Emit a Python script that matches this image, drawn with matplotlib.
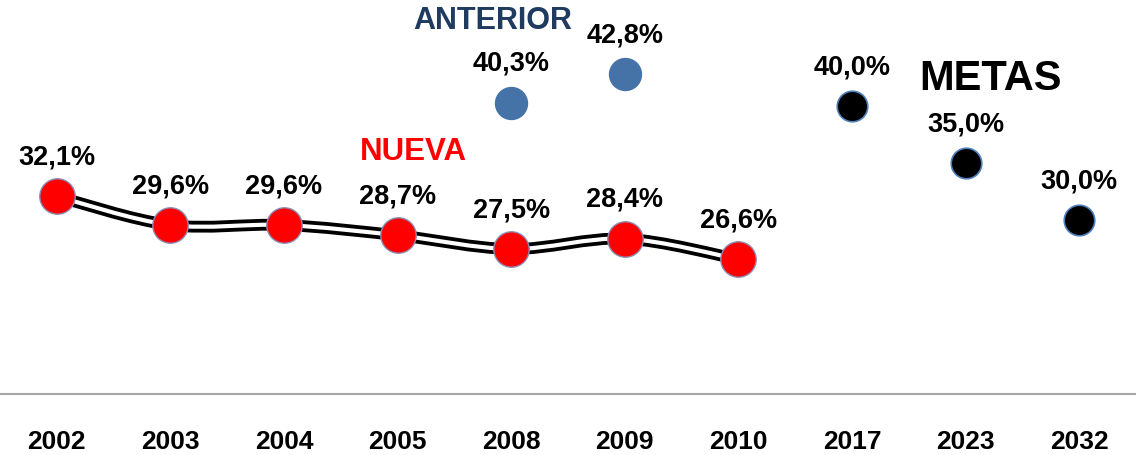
import matplotlib.pyplot as plt
from matplotlib.path import Path
from matplotlib.patches import PathPatch
import numpy as np

plt.rcParams['font.family'] = ['Liberation Sans', 'DejaVu Sans']

anos = ['2002', '2003', '2004', '2005', '2008', '2009', '2010', '2017', '2023', '2032']
nueva = [32.1, 29.6, 29.6, 28.7, 27.5, 28.4, 26.6]
anterior = [40.3, 42.8]          # 2008, 2009
metas = [40.0, 35.0, 30.0]       # 2017, 2023, 2032

x = np.arange(len(anos))
x_nueva = x[:7]
x_ant = x[4:6]
x_metas = x[7:]

fig = plt.figure(figsize=(11.36, 4.55), dpi=100)
ax = fig.add_axes([0, 0.134, 1, 0.866])
ax.set_xlim(-0.5, 9.5)
ax.set_ylim(14.8, 49.3)

# smoothed line (bezier through the points, like excel's smooth line)
px = np.asarray(x_nueva, float)
py = np.asarray(nueva, float)
verts = [(px[0], py[0])]
codes = [Path.MOVETO]
n = len(px)
for i in range(n - 1):
    i0 = max(i - 1, 0)
    i3 = min(i + 2, n - 1)
    c1 = (px[i] + (px[i + 1] - px[i0]) / 6, py[i] + (py[i + 1] - py[i0]) / 6)
    c2 = (px[i + 1] - (px[i3] - px[i]) / 6, py[i + 1] - (py[i3] - py[i]) / 6)
    verts += [c1, c2, (px[i + 1], py[i + 1])]
    codes += [Path.CURVE4] * 3
path = Path(verts, codes)
ax.add_patch(PathPatch(path, fc='none', ec='black', lw=8.5, zorder=2, capstyle='butt'))
ax.add_patch(PathPatch(path, fc='none', ec='white', lw=3, zorder=3, capstyle='butt'))

ax.plot(x_nueva, nueva, 'o', ms=25.5, mfc='#FF0000', mec='#8C8CB4', mew=1, zorder=4)
ax.plot(x_ant, anterior, 'o', ms=23, mfc='#4572A7', mec='#4572A7', mew=1, zorder=4)
ax.plot(x_metas, metas, 'o', ms=22, mfc='black', mec='#4F81BD', mew=1.2, zorder=4)

def etiqueta(xs, ys):
    for xi, yi in zip(xs, ys):
        ax.annotate(f'{yi:.1f}%'.replace('.', ','), (xi, yi), xytext=(0, 28),
                    textcoords='offset points', ha='center', va='center',
                    fontsize=19.5, fontweight='bold', color='black', zorder=5)

etiqueta(x_nueva, nueva)
etiqueta(x_ant, anterior)
etiqueta(x_metas, metas)

ax.text(3.84, 47.5, 'ANTERIOR', ha='center', va='center', fontsize=22,
        fontweight='bold', color='#1F3B5F')
ax.text(3.14, 36.0, 'NUEVA', ha='center', va='center', fontsize=22.5,
        fontweight='bold', color='#FF0000')
ax.text(8.22, 42.4, 'METAS', ha='center', va='center', fontsize=30,
        fontweight='bold', color='black')

ax.set_xticks(x)
ax.set_xticklabels(anos, fontsize=19, fontweight='bold')
ax.tick_params(axis='x', length=0, pad=26)
ax.set_yticks([])
for s in ['top', 'left', 'right']:
    ax.spines[s].set_visible(False)
ax.spines['bottom'].set_color('#A6A6A6')
ax.spines['bottom'].set_linewidth(1.5)

fig.savefig('out.png', dpi=100)
